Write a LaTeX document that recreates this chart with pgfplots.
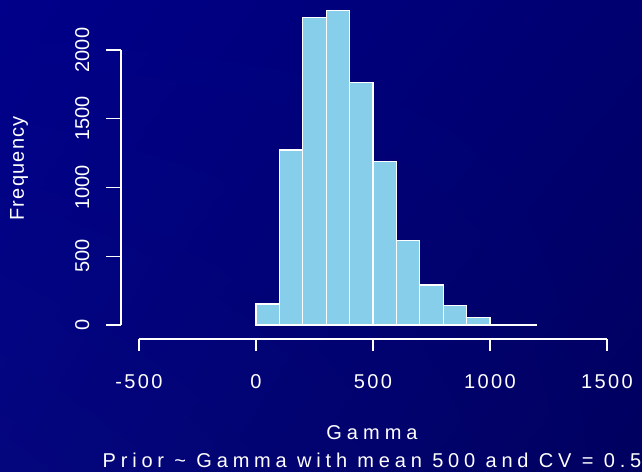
\documentclass[border=0pt]{standalone}
\usepackage{fontspec}
\setmainfont{Liberation Sans}
\newfontfamily\spaced{Liberation Sans}[LetterSpace=24]
\newfontfamily\gspaced{Liberation Sans}[LetterSpace=25]
\newfontfamily\fspaced{Liberation Sans}[LetterSpace=6]
\newfontfamily\tickspaced{Liberation Sans}[LetterSpace=12]
\usepackage{pgfplots}
\pgfplotsset{compat=1.18}
\usetikzlibrary{shadings}
\definecolor{skyblue}{HTML}{87CEEB}
\definecolor{bgTL}{HTML}{00008A}
\definecolor{bgTR}{HTML}{000070}
\definecolor{bgBL}{HTML}{04067E}
\definecolor{bgBR}{HTML}{00005F}
\begin{document}
\begin{tikzpicture}
\shade[upper left=bgTL, upper right=bgTR, lower left=bgBL, lower right=bgBR]
  (0,0) rectangle (642bp,472bp);
\begin{axis}[
  at={(139bp,147bp)}, anchor=south west,
  scale only axis, width=468bp, height=275bp,
  xmin=-500, xmax=1500, ymin=0, ymax=2000,
  clip=false,
  axis lines*=left,
  axis x line shift=14bp,
  axis y line shift=18bp,
  axis line style={white, line width=1.3bp},
  tick align=outside,
  tick style={white, line width=1.3bp},
  xtick={-500,0,500,1000,1500},
  xticklabels={-500,0,500,1000,1500},
  ytick={0,500,1000,1500,2000},
  yticklabels={0,500,1000,1500,2000},
  xtick style={/pgfplots/major tick length=12bp},
  ytick style={/pgfplots/major tick length=15bp},
  xticklabel style={font=\fontsize{20bp}{24bp}\tickspaced, text=white, yshift=-28bp},
  yticklabel style={font=\fontsize{20bp}{24bp}\selectfont, text=white, rotate=90, anchor=south, yshift=24bp},
  /pgf/number format/assume math mode=true,
]
\addplot[ybar interval, fill=skyblue, draw=white, line width=1.3bp]
  coordinates {(0,153) (100,1273) (200,2238) (300,2289) (400,1762) (500,1188)
  (600,613) (700,291) (800,140) (900,53) (1000,4) (1100,2) (1200,2)};
\end{axis}
\node[text=white, rotate=90, font=\fontsize{20bp}{24bp}\fspaced] at (19bp,303.5bp) {Frequency};
\node[text=white, anchor=base, font=\fontsize{20bp}{24bp}\gspaced] at (372bp,33bp) {Gamma};
\node[text=white, anchor=base, font=\fontsize{20bp}{24bp}\spaced] at (372bp,5bp) {Prior \textasciitilde{} Gamma with mean 500 and CV = 0.5};
\pgfresetboundingbox
\path (0,0) rectangle (642bp,472bp);
\end{tikzpicture}
\end{document}
